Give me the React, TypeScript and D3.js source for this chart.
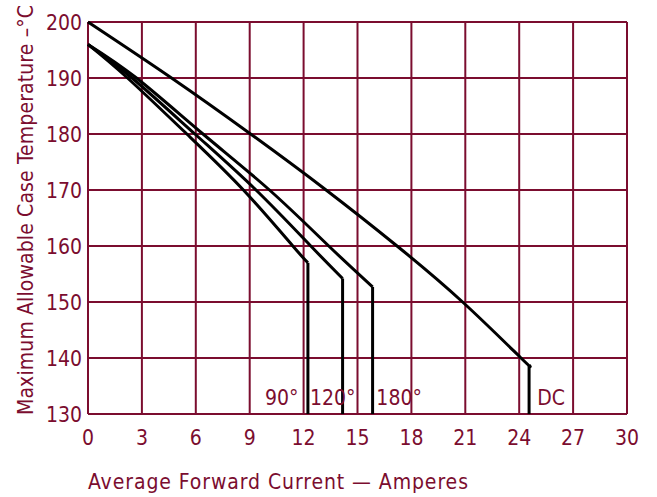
import * as d3 from 'd3'
import React from 'react'

// axis ticks
const xTicks = [0, 3, 6, 9, 12, 15, 18, 21, 24, 27, 30]
const yTicks = [130, 140, 150, 160, 170, 180, 190, 200]

// curves (current in A, case temperature in °C)
const current90 = [0, 2.2, 5.5, 8.65, 11.4, 12.24]
const temp90 = [196, 190, 180, 170, 160, 157]

const current120 = [0, 2.45, 5.95, 9.35, 12.4, 14.17]
const temp120 = [196, 190, 180, 170, 160, 154.2]

const current180 = [0, 2.7, 6.4, 10.1, 13.4, 15.84]
const temp180 = [196, 190, 180, 170, 160, 152.7]

const currentDC = [0, 4.65, 9.05, 13.25, 17.2, 20.85, 24.1, 24.55]
const tempDC = [200, 190, 180, 170, 160, 150, 140, 138.75]

const seriesLabels = ['90°', '120°', '180°', 'DC']

const W = 657
const H = 497
const margin = { top: 22, right: 30, bottom: 83, left: 88 }

const GRID = '#7b0d2f'
const FONT = "'Liberation Sans Narrow', 'DejaVu Sans Condensed', 'Liberation Sans', sans-serif"

export default function App() {
  const x = d3.scaleLinear().domain([0, 30]).range([margin.left, W - margin.right])
  const y = d3.scaleLinear().domain([130, 200]).range([H - margin.bottom, margin.top])

  const line = d3
    .line<[number, number]>()
    .x(d => x(d[0]))
    .y(d => y(d[1]))
    .curve(d3.curveNatural)

  const series = [
    { cur: current90, temp: temp90, label: seriesLabels[0], labelX: 9.85 },
    { cur: current120, temp: temp120, label: seriesLabels[1], labelX: 12.35 },
    { cur: current180, temp: temp180, label: seriesLabels[2], labelX: 16.05 },
    { cur: currentDC, temp: tempDC, label: seriesLabels[3], labelX: 25.0 },
  ]

  return (
    <svg
      width={W}
      height={H}
      style={{ position: 'absolute', left: 0, top: 0, background: '#fff' }}
      fontFamily={FONT}
    >
      {/* grid */}
      {xTicks.map(t => (
        <line key={'gx' + t} x1={x(t)} x2={x(t)} y1={y(130)} y2={y(200)} stroke={GRID} strokeWidth={2} />
      ))}
      {yTicks.map(t => (
        <line key={'gy' + t} x1={x(0)} x2={x(30)} y1={y(t)} y2={y(t)} stroke={GRID} strokeWidth={2} />
      ))}

      {/* tick labels */}
      {xTicks.map(t => (
        <text key={'tx' + t} x={x(t)} y={y(130) + 31} textAnchor="middle" fontSize={21} fill={GRID}>
          {t}
        </text>
      ))}
      {yTicks.map(t => (
        <text key={'ty' + t} x={x(0) - 6} y={y(t) + 7.5} textAnchor="end" fontSize={21} fill={GRID}>
          {t}
        </text>
      ))}

      {/* curves */}
      {series.map(s => {
        const pts = s.cur.map((c, i) => [c, s.temp[i]] as [number, number])
        const last = pts[pts.length - 1]
        return (
          <g key={s.label}>
            <path d={line(pts) ?? ''} fill="none" stroke="#000" strokeWidth={3} />
            <line x1={x(last[0])} x2={x(last[0])} y1={y(last[1])} y2={y(130)} stroke="#000" strokeWidth={3} />
            <text x={x(s.labelX)} y={y(130) - 9} fontSize={21} fill={GRID}>
              {s.label}
            </text>
          </g>
        )
      })}

      {/* axis titles */}
      <text x={x(0)} y={489} fontSize={21} fill={GRID} textLength={380} lengthAdjust="spacing">
        Average Forward Current — Amperes
      </text>
      <text
        transform={`translate(33, 415) rotate(-90)`}
        fontSize={21}
        fill={GRID}
        textLength={410}
        lengthAdjust="spacing"
      >
        Maximum Allowable Case Temperature –°C
      </text>
    </svg>
  )
}
